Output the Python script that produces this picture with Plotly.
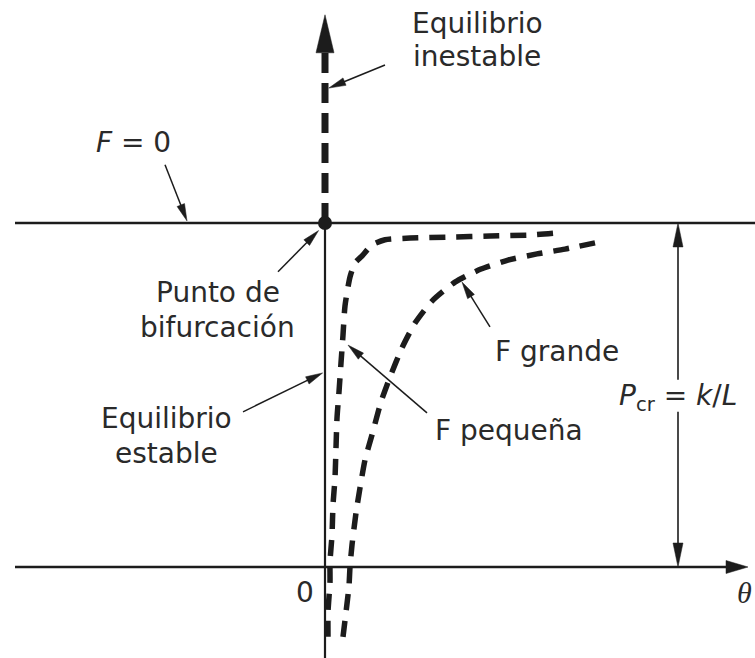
import math
import plotly.graph_objects as go

# Canvas and axis windows: theta (rotation) horizontally, load P/Pcr vertically
W, H = 755, 658
X_RANGE = [-0.8125, 1.075]
Y_RANGE = [-0.2645, 1.648]
SX = W / (X_RANGE[1] - X_RANGE[0])   # px per theta unit
SY = H / (Y_RANGE[1] - Y_RANGE[0])   # px per load unit

# Critical load level and axis extents
P_CR = 1.0
THETA_LEFT = -0.775
THETA_TIP = 1.0575
P_UNSTABLE_TIP = 1.605
THETA_DIM = 0.8825
P_DIM_GAP = [0.451, 0.544]

# Equilibrium path, small imperfection (F pequeña)
theta_small = [0.0075, 0.0075, 0.0125, 0.0125, 0.0175, 0.02, 0.025, 0.0275, 0.03,
               0.035, 0.04, 0.045, 0.05, 0.0625, 0.075, 0.0925, 0.1175, 0.15,
               0.2125, 0.3125, 0.4125, 0.5125, 0.5775]
p_small = [-0.203, -0.131, -0.044, 0.015, 0.093, 0.180, 0.259, 0.346, 0.433,
           0.509, 0.593, 0.674, 0.759, 0.843, 0.884, 0.904, 0.936, 0.951,
           0.956, 0.959, 0.962, 0.965, 0.971]

# Equilibrium path, large imperfection (F grande)
theta_large = [0.045, 0.0525, 0.06, 0.0625, 0.0675, 0.0775, 0.0875, 0.1, 0.1175,
               0.14, 0.1625, 0.1925, 0.225, 0.2675, 0.325, 0.39, 0.4575, 0.53,
               0.6, 0.675]
p_large = [-0.203, -0.131, -0.055, 0.0, 0.064, 0.157, 0.230, 0.311, 0.384,
           0.480, 0.552, 0.637, 0.709, 0.773, 0.828, 0.866, 0.892, 0.910,
           0.924, 0.942]

INK = "#1c1c1c"
TEXT = "#2a2a2a"
FONT = "DejaVu Sans"

fig = go.Figure()
shapes = []


def arrow(x0, y0, x1, y1, head_len, head_w, width, color=INK):
    """Straight arrow from (x0, y0) to tip (x1, y1); head sized in pixels."""
    dxp, dyp = (x1 - x0) * SX, (y1 - y0) * SY
    length = math.hypot(dxp, dyp)
    ux, uy = dxp / length, dyp / length
    nx, ny = -uy, ux
    bx, by = -ux * head_len, -uy * head_len
    p2 = (x1 + (bx + nx * head_w / 2) / SX, y1 + (by + ny * head_w / 2) / SY)
    p3 = (x1 + (bx - nx * head_w / 2) / SX, y1 + (by - ny * head_w / 2) / SY)
    base = (x1 + bx * 0.7 / SX, y1 + by * 0.7 / SY)
    if length > head_len:
        shapes.append(dict(type="line", x0=x0, y0=y0, x1=base[0], y1=base[1],
                           line=dict(color=color, width=width)))
    shapes.append(dict(type="path",
                       path=f"M{x1},{y1} L{p2[0]},{p2[1]} L{p3[0]},{p3[1]} Z",
                       fillcolor=color, line=dict(color=color, width=0.5)))


# Horizontal reference lines: F = 0 branch at P = Pcr and the theta axis
fig.add_trace(go.Scatter(x=[THETA_LEFT, X_RANGE[1]], y=[P_CR, P_CR], mode="lines",
                         line=dict(color=INK, width=2.4), hoverinfo="skip"))
arrow(THETA_LEFT, 0, THETA_TIP, 0, 22, 13, 2.4)

# Stable (solid) and unstable (thick dashed) parts of the load axis
fig.add_trace(go.Scatter(x=[0, 0], y=[Y_RANGE[0], P_CR], mode="lines",
                         line=dict(color=INK, width=2.2), hoverinfo="skip"))
p_unstable_base = P_UNSTABLE_TIP - 36 / SY
fig.add_trace(go.Scatter(x=[0, 0], y=[P_CR, p_unstable_base], mode="lines",
                         line=dict(color=INK, width=7, dash="20px,10px"),
                         hoverinfo="skip"))
arrow(0, p_unstable_base, 0, P_UNSTABLE_TIP, 38, 18, 7)

# Imperfect-column equilibrium paths
fig.add_trace(go.Scatter(x=theta_small, y=p_small, mode="lines",
                         line=dict(color=INK, width=5.5, dash="16px,11px", shape="spline",
                                   smoothing=0.6),
                         hoverinfo="skip"))
fig.add_trace(go.Scatter(x=theta_large, y=p_large, mode="lines",
                         line=dict(color=INK, width=5.5, dash="16px,11px", shape="spline",
                                   smoothing=0.6),
                         hoverinfo="skip"))

# Bifurcation point
fig.add_trace(go.Scatter(x=[0], y=[P_CR], mode="markers",
                         marker=dict(color=INK, size=14), hoverinfo="skip"))

# Dimension line for Pcr = k/L
arrow(THETA_DIM, P_DIM_GAP[1], THETA_DIM, P_CR, 24, 10, 1.6)
arrow(THETA_DIM, P_DIM_GAP[0], THETA_DIM, 0, 24, 10, 1.6)

# Callout arrows
arrow(0.15, 1.459, 0.0095, 1.392, 17, 8, 1.5)
arrow(-0.40, 1.169, -0.345, 1.006, 17, 8, 1.5)
arrow(-0.1175, 0.858, -0.016, 0.978, 17, 8, 1.5)
arrow(-0.205, 0.451, -0.006, 0.564, 17, 8, 1.5)
arrow(0.255, 0.448, 0.0575, 0.645, 17, 8, 1.5)
arrow(0.4125, 0.698, 0.3425, 0.828, 17, 8, 1.5)

labels = [
    ("Equilibrio", 0.38, 1.581),
    ("inestable", 0.38, 1.483),
    ("<i>F</i> = 0", -0.48, 1.233),
    ("Punto de", -0.2675, 0.797),
    ("bifurcación", -0.27, 0.695),
    ("Equilibrio", -0.3975, 0.433),
    ("estable", -0.3975, 0.331),
    ("F grande", 0.58, 0.625),
    ("F pequeña", 0.46, 0.398),
    ("<i>P</i><sub>cr</sub> = <i>k</i>/<i>L</i>", THETA_DIM, 0.494),
    ("0", -0.05, -0.073),
]
annotations = [dict(x=x, y=y, text=t, showarrow=False, xanchor="center", yanchor="middle",
                    font=dict(family=FONT, size=28, color=TEXT))
               for t, x, y in labels]
# theta label at the far right end of the axis, kept inside the canvas
annotations.append(dict(x=X_RANGE[1], y=-0.073, text="<i>θ</i>", showarrow=False,
                        xanchor="right", yanchor="middle", xshift=-1,
                        font=dict(family="Liberation Serif", size=30, color=TEXT)))

fig.update_layout(
    width=W, height=H,
    margin=dict(l=0, r=0, t=0, b=0),
    paper_bgcolor="white", plot_bgcolor="white",
    showlegend=False,
    xaxis=dict(range=X_RANGE, visible=False, fixedrange=True),
    yaxis=dict(range=Y_RANGE, visible=False, fixedrange=True),
    shapes=shapes,
    annotations=annotations,
)

fig.write_html("out.html")
